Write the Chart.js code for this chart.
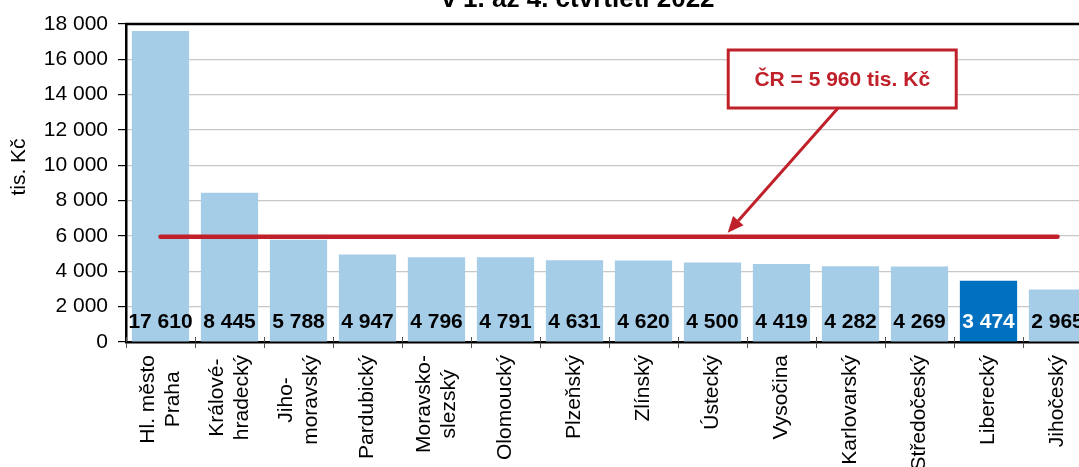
<!DOCTYPE html>
<html><head><meta charset="utf-8">
<script src="https://cdn.jsdelivr.net/npm/chart.js@4.4.1/dist/chart.umd.min.js"></script>
<style>html,body{margin:0;padding:0;overflow:hidden;background:#fff;width:1079px;height:467px}#wrap{position:absolute;left:0;top:0}</style>
</head><body><div id="wrap"><canvas id="c" width="1092" height="467"></canvas></div>
<script>
const categories = [["Hl. město","Praha"],["Králové-","hradecký"],["Jiho-","moravský"],"Pardubický",["Moravsko-","slezský"],"Olomoucký","Plzeňský","Zlínský","Ústecký","Vysočina","Karlovarský","Středočeský","Liberecký","Jihočeský"];
const values = [17610,8445,5788,4947,4796,4791,4631,4620,4500,4419,4282,4269,3474,2965];
const highlightIndex = 12;
const nationalAverage = 5960;
const yTicks = [0,2000,4000,6000,8000,10000,12000,14000,16000,18000];
const titleText = "v 1. až 4. čtvrtletí 2022";
const annotationText = "ČR = " + "5 960" + " tis. Kč";
const yAxisTitle = "tis. Kč";

const FONT = "'Liberation Sans', Arial, sans-serif";
const fmt = v => String(v).replace(/\B(?=(\d{3})+(?!\d))/g, ' ');
const light = '#a6cde8', dark = '#0070c0', red = '#c0202a';

const overlay = {
  id: 'overlay',
  afterDraw(chart) {
    const ctx = chart.ctx, a = chart.chartArea, x = chart.scales.x, y = chart.scales.y;
    ctx.save();
    // top border
    ctx.strokeStyle = '#000'; ctx.lineWidth = 2.5;
    ctx.beginPath(); ctx.moveTo(a.left - 1, a.top); ctx.lineTo(a.right, a.top); ctx.stroke();
    // inside tick marks of x axis
    ctx.strokeStyle = '#555'; ctx.lineWidth = 1;
    for (let i = 0; i <= categories.length; i++) {
      const px = Math.round(x.getPixelForValue(i - 0.5)) + 0.5;
      ctx.beginPath(); ctx.moveTo(px, a.bottom - 5); ctx.lineTo(px, a.bottom); ctx.stroke();
    }
    // category labels (rotated, lines centred within block, block end-aligned near axis)
    ctx.fillStyle = '#000'; ctx.font = "21px " + FONT; ctx.textAlign = 'center'; ctx.textBaseline = 'middle';
    const lh = 25, top = a.bottom + 13;
    categories.forEach((c, i) => {
      const lines = Array.isArray(c) ? c : [c];
      const maxW = Math.max(...lines.map(l => ctx.measureText(l).width));
      const cx = x.getPixelForValue(i);
      const cy = top + maxW / 2;
      lines.forEach((l, j) => {
        const lx = cx + (j - (lines.length - 1) / 2) * lh;
        ctx.save(); ctx.translate(lx, cy); ctx.rotate(-Math.PI / 2);
        ctx.fillText(l, 0, 0); ctx.restore();
      });
    });
    // y axis title
    ctx.save(); ctx.translate(19, 167); ctx.rotate(-Math.PI / 2);
    ctx.font = "21px " + FONT; ctx.fillText(yAxisTitle, 0, 0); ctx.restore();
    // value labels
    ctx.font = "bold 21px " + FONT; ctx.textAlign = 'center'; ctx.textBaseline = 'middle';
    const y0 = y.getPixelForValue(0);
    values.forEach((v, i) => {
      ctx.fillStyle = i === highlightIndex ? '#fff' : '#000';
      ctx.fillText(fmt(v), x.getPixelForValue(i), y0 - 20);
    });
    // title (partially cut)
    ctx.fillStyle = '#000'; ctx.font = "bold 26px " + FONT; ctx.textBaseline = 'alphabetic';
    ctx.fillText(titleText, 578, 7);
    // annotation box
    const bx = x.getPixelForValue(9.88), by = y.getPixelForValue(14887);
    const bw = 228, bh = 58;
    // arrow
    const sx = x.getPixelForValue(9.82), sy = by + bh / 2;
    const tx = x.getPixelForValue(8.22), ty = y.getPixelForValue(nationalAverage) - 4;
    const ang = Math.atan2(ty - sy, tx - sx);
    const hl = 16, hw = 7;
    const ex = tx - Math.cos(ang) * hl, ey = ty - Math.sin(ang) * hl;
    ctx.strokeStyle = red; ctx.fillStyle = red; ctx.lineWidth = 3;
    ctx.beginPath(); ctx.moveTo(sx, sy); ctx.lineTo(ex, ey); ctx.stroke();
    ctx.beginPath(); ctx.moveTo(tx, ty);
    ctx.lineTo(ex + Math.sin(ang) * hw, ey - Math.cos(ang) * hw);
    ctx.lineTo(ex - Math.sin(ang) * hw, ey + Math.cos(ang) * hw);
    ctx.closePath(); ctx.fill();
    ctx.fillStyle = '#fff';
    ctx.fillRect(bx - bw / 2, by - bh / 2, bw, bh);
    ctx.strokeStyle = red; ctx.lineWidth = 3;
    ctx.strokeRect(bx - bw / 2, by - bh / 2, bw, bh);
    ctx.fillStyle = red; ctx.font = "bold 21px " + FONT; ctx.textBaseline = 'middle';
    ctx.fillText(annotationText, bx, by + 1);
    ctx.restore();
  }
};

new Chart(document.getElementById('c'), {
  data: {
    labels: categories,
    datasets: [
      { type: 'line', data: categories.map(() => nationalAverage), borderColor: red, borderWidth: 4.5,
        pointRadius: 0, borderCapStyle: 'round', order: 0 },
      { type: 'bar', data: values, backgroundColor: values.map((v, i) => i === highlightIndex ? dark : light),
        barPercentage: 0.83, categoryPercentage: 1, order: 1 }
    ]
  },
  options: {
    responsive: false, animation: false, devicePixelRatio: 1,
    layout: { padding: { top: 24, left: 0, right: 0, bottom: 0 } },
    plugins: { legend: { display: false }, tooltip: { enabled: false }, title: { display: false } },
    scales: {
      x: {
        offset: true,
        grid: { display: true, drawOnChartArea: false, drawTicks: true, tickLength: 6, tickColor: '#555', color: '#555', offset: true },
        border: { color: '#000', width: 2.5 },
        ticks: { display: false, autoSkip: false },
        afterFit(s) { s.height = 125; }
      },
      y: {
        min: 0, max: 18000,
        afterBuildTicks(s) { s.ticks = yTicks.map(v => ({ value: v })); },
        grid: { color: '#c8c8c8', lineWidth: 1.2, tickColor: '#000', tickLength: 8 },
        border: { color: '#000', width: 2.5 },
        ticks: { color: '#000', font: { family: FONT, size: 21 }, padding: 10, callback: v => fmt(v) },
        afterFit(s) { s.width = 126; }
      }
    }
  },
  plugins: [overlay]
});
</script></body></html>
